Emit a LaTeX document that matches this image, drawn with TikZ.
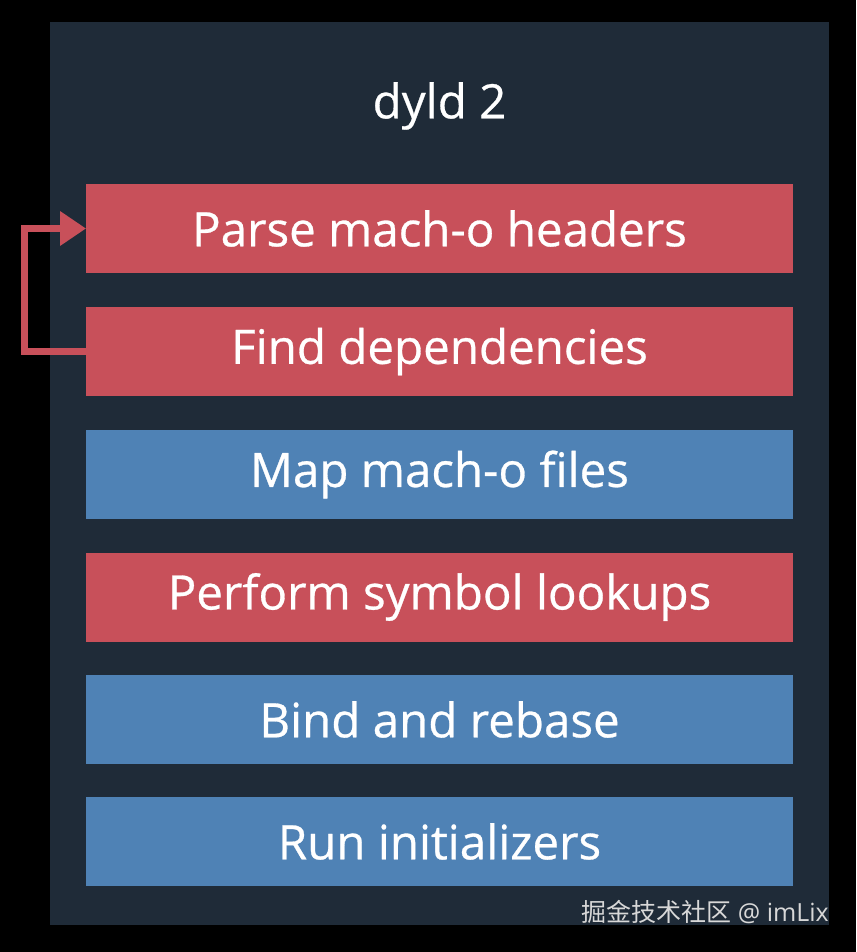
\documentclass[tikz,border=0pt]{standalone}
\usepackage{fontspec}
\setmainfont{Open Sans}
\newfontfamily\boxfont[FakeBold=0.6]{Open Sans}
\newfontfamily\cjk{Noto Sans CJK SC}
\definecolor{panel}{HTML}{1F2B38}
\definecolor{redbox}{HTML}{C8505A}
\definecolor{bluebox}{HTML}{4F82B5}
\definecolor{wm}{HTML}{D8D8D8}
\begin{document}
\begin{tikzpicture}[x=1pt,y=-1pt,
  stepbox/.style={fill=#1, draw=none, minimum width=707pt, minimum height=89pt, inner sep=0pt,
    text=white, font=\boxfont\fontsize{47.5}{56}\selectfont},
  loopline/.style={draw=redbox, line width=7pt, line join=miter}]
\fill[black] (0,0) rectangle (856,952);
\useasboundingbox (0,0) rectangle (856,952);
\fill[panel] (50,22) rectangle (829,925);
\node[text=white, font=\boxfont\fontsize{47.5}{56}\selectfont] (title) at (439.5,106) {dyld 2};
\node[stepbox=redbox] (b1) at (439.5,228.5) {Parse mach-o headers};
\node[stepbox=redbox] (b2) at (439.5,351.5) {Find dependencies};
\node[stepbox=bluebox] (b3) at (439.5,474.5) {Map mach-o files};
\node[stepbox=redbox] (b4) at (439.5,597) {Perform symbol lookups};
\node[stepbox=bluebox] (b5) at (439.5,719.5) {Bind and rebase};
\node[stepbox=bluebox] (b6) at (439.5,841.5) {Run initializers};
\coordinate (c1) at (24,351.5);
\coordinate (c2) at (24,228.5);
\coordinate (tipbase) at (60,228.5);
\draw[loopline] (b2.west) -- (c1) -- (c2) -- (tipbase);
\fill[redbox] (tipbase |- 0,211) -- (b1.west) -- (tipbase |- 0,246) -- cycle;
\node[anchor=east, text=wm, inner sep=0pt, font=\fontsize{25}{30}\selectfont] (wmk) at (829,912) {{\cjk 掘金技术社区} @ imLix};
\end{tikzpicture}
\end{document}
